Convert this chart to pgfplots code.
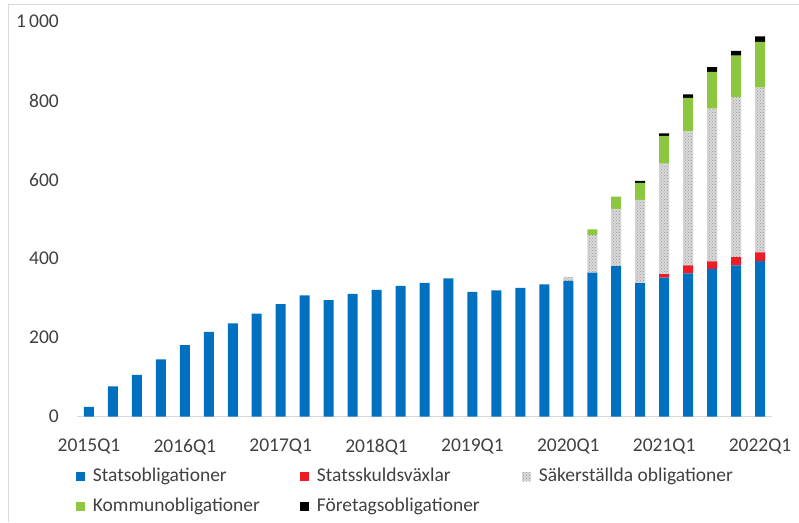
\documentclass[border=0pt]{standalone}
\usepackage{pgfplots}
\pgfplotsset{compat=1.18}
\usepackage{fontspec}
\setmainfont{Carlito}
\usetikzlibrary{patterns}
\definecolor{cblue}{HTML}{0070C0}
\definecolor{cred}{HTML}{EE1C25}
\definecolor{cgreen}{HTML}{8DC63F}
\definecolor{ctext}{HTML}{404040}
\definecolor{cgrey}{HTML}{A6A6A6}
\definecolor{caxis}{HTML}{D9D9D9}
\newcommand{\lf}{\fontsize{19.5}{23.4}\selectfont}
\newcommand{\st}{\rule[-10pt]{0pt}{29.5pt}}
\begin{document}
\begin{tikzpicture}[x=1pt,y=1pt]
\path[use as bounding box] (-77,-105.3) rectangle (722,416.7);
\draw[caxis,line width=0.8pt] (-69,-105.3) -- (-69,412.7) -- (722,412.7);
\begin{axis}[
  at={(0,0)}, anchor=south west,
  scale only axis, width=695pt, height=395pt,
  ybar stacked, bar width=10pt,
  xmin=-0.5, xmax=28.5, ymin=0, ymax=1000,
  xtick={0,4,8,12,16,20,24,28},
  xticklabels={2015Q1,2016Q1,2017Q1,2018Q1,2019Q1,2020Q1,2021Q1,2022Q1},
  ytick={0,200,400,600,800,1000},
  axis line style={draw=none},
  axis x line*=bottom, axis y line*=left,
  major tick length=0pt,
  tick label style={font=\lf, text=ctext, inner sep=0pt},
  /pgf/number format/assume math mode=true,
  /pgf/number format/1000 sep={\,},
  yticklabel style={anchor=east, xshift=-18pt},
  xticklabel style={anchor=north, yshift=-22pt},
  extra y ticks={0}, extra y tick labels={},
  extra y tick style={grid=major, major grid style={caxis,line width=0.8pt}},
  legend columns=3,
  legend cell align=left,
  legend style={draw=none, fill=none, at={(-1pt,-45.1pt)}, anchor=north west,
    font=\lf, text=ctext, inner sep=0pt, nodes={inner sep=0pt, text depth=10pt},
    /tikz/every odd column/.append style={column sep=7.7pt},
    /tikz/every even column/.append style={column sep=0pt},
    row sep=0pt},
  legend image code/.code={\draw[#1,draw=none] (0pt,-4.5pt) rectangle (9pt,4.5pt);},
  clip=false,
]
% Statsobligationer
\addplot[fill=cblue, draw=none] coordinates {
(0,25) (1,77) (2,106) (3,145) (4,181) (5,215) (6,236) (7,261) (8,285) (9,307)
(10,295) (11,311) (12,321) (13,331) (14,339) (15,350) (16,316) (17,320) (18,326) (19,335)
(20,344) (21,365) (22,381) (23,338) (24,352) (25,363) (26,374) (27,383) (28,394)};
\addlegendentry{\makebox[207.3pt][l]{\st Statsobligationer}}
% Statsskuldsvaxlar
\addplot[fill=cred, draw=none] coordinates {
(0,0) (1,0) (2,0) (3,0) (4,0) (5,0) (6,0) (7,0) (8,0) (9,0)
(10,0) (11,0) (12,0) (13,0) (14,0) (15,0) (16,0) (17,0) (18,0) (19,0)
(20,0) (21,0) (22,0) (23,0) (24,9) (25,20) (26,19) (27,21) (28,22)};
\addlegendentry{\makebox[205.3pt][l]{\st Statsskuldsväxlar}}
% Sakerstallda
\addplot[fill=gray!30, postaction={pattern=crosshatch dots, pattern color=gray!80}, draw=none] coordinates {
(0,0) (1,0) (2,0) (3,0) (4,0) (5,0) (6,0) (7,0) (8,0) (9,0)
(10,0) (11,0) (12,0) (13,0) (14,0) (15,0) (16,0) (17,0) (18,0) (19,0)
(20,10) (21,95) (22,145) (23,211) (24,280) (25,340) (26,387) (27,405) (28,417)};
\addlegendentry{\st Säkerställda obligationer}
% Kommunobligationer
\addplot[fill=cgreen, draw=none] coordinates {
(0,0) (1,0) (2,0) (3,0) (4,0) (5,0) (6,0) (7,0) (8,0) (9,0)
(10,0) (11,0) (12,0) (13,0) (14,0) (15,0) (16,0) (17,0) (18,0) (19,0)
(20,0) (21,14) (22,31) (23,43) (24,70) (25,84) (26,93) (27,105) (28,116)};
\addlegendentry{\makebox[207.3pt][l]{\st Kommunobligationer}}
% Foretagsobligationer
\addplot[fill=black, draw=none] coordinates {
(0,0) (1,0) (2,0) (3,0) (4,0) (5,0) (6,0) (7,0) (8,0) (9,0)
(10,0) (11,0) (12,0) (13,0) (14,0) (15,0) (16,0) (17,0) (18,0) (19,0)
(20,0) (21,0) (22,0) (23,5) (24,6) (25,9) (26,12) (27,12) (28,14)};
\addlegendentry{\makebox[205.3pt][l]{\st Företagsobligationer}}
\end{axis}
\end{tikzpicture}
\end{document}
